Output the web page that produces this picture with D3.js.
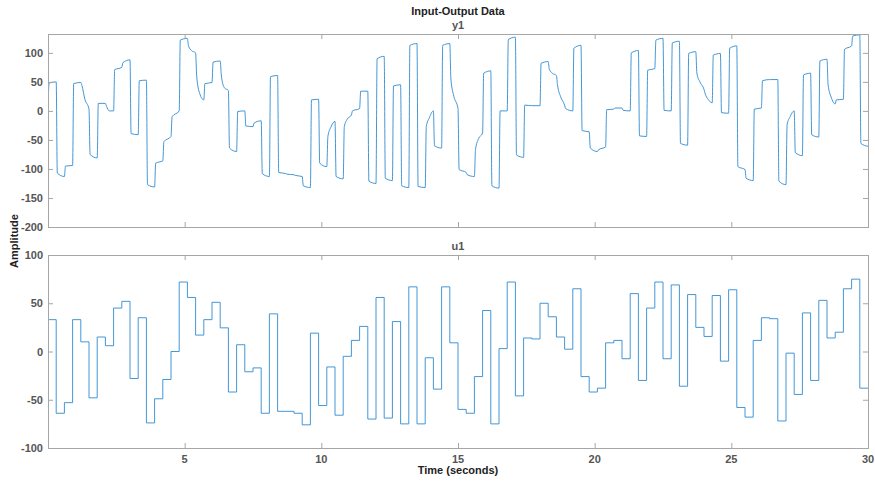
<!DOCTYPE html>
<html>
<head>
<meta charset="utf-8">
<script src="https://cdn.jsdelivr.net/npm/d3@7"></script>
<style>
  body { margin: 0; background: #fff; }
  svg text { font-family: "Liberation Sans", Arial, sans-serif; }
  .tick-label { font-size: 11px; font-weight: bold; fill: #555; }
  .title { font-size: 11px; font-weight: bold; fill: #222; }
  .sub { font-size: 11px; font-weight: bold; fill: #555; }
</style>
</head>
<body>
<div id="chart"></div>
<script>
// sample period of the input signal (seconds per held value)
var stepLength = 0.3;

// u1: held input values, one per step
var u1 = [
  33, -64, -53, 33, 10, -48, 15, 6, 45, 52,
  -28, 35, -74, -49, -29, 0, 72, 56, 17, 33,
  51, 24.5, -42, 7, -21, -17, -64, 39, -62, -62,
  -64, -76, 19, -56, -16, -66, -5, 11.5, 26, -70,
  56, -69, 31, -75, 67, -75, -6.5, -39, 67, 9,
  -60, -64, -26, 42.5, -75, 3, 72, -46, 14, 13,
  50, 36, 15, 2.4, 65, -26, -42, -38, 9, 11.5,
  -7.5, 60, -30, 45, 72, -7.5, 69, -36, 59, 25,
  15.6, 58, -10, 64, -58, -68, 11.5, 35, 34, -72,
  -1.7, -44.5, 40, -30, 53, 14, 20, 65, 75, -38
];

// y1: output read per step -> value just after the jump, mid-step (if curved), end of step
var y1Start = [
  48, -107, -95, 47, 44, -75, 13, 8, 71, 83,
  -39, 52, -127, -90, -53, -10, 122, 112, 60, 47,
  84, 62, -64, -1, -26, -21, -108, 59, -106, -109,
  -111, -129, 19, -90, -44, -113, -27, 0, 34, -121,
  90, -116, 43, -129, 113, -130, -27, -60, 113, 55,
  -101, -110, -67, 65, -129, 0, 123, -76, 10, 9,
  82, 72, 45, 4, 108, -34, -64, -67, 2, 5,
  1, 100, -43, 70, 122, 1, 117, -56, 99, 65,
  30, 96, -3, 108, -96, -116, 3, 52, 54, -121,
  -24, -72, 62, -41, 86, 45, 19, 106, 129, -56
];
var y1Mid = [
  null, null, null, null, 20, null, null, 0, null, null,
  null, null, null, null, null, null, null, 104, 30, null,
  null, 40, null, null, null, null, null, null, null, null,
  null, null, null, null, -28, null, -14, null, null, null,
  null, null, null, null, null, null, -12, null, null, 25,
  null, null, -48, null, null, null, null, null, null, null,
  null, 65, 25, null, null, null, null, null, null, null,
  null, null, null, null, null, null, null, null, null, 50,
  20, null, null, null, null, null, null, null, null, null,
  -10, null, null, null, null, 24, null, null, null, null
];
var y1End = [
  50, -113, -94, 49, 3, -81, 13, 0, 75, 88,
  -41, 53, -131, -86, -44, 0, 125, 100, 19, 49,
  86, 35, -70, 0, -27, -17, -113, 61, -108, -110,
  -113, -132, 20, -96, -18, -117, -7, 4, 34, -125,
  94, -120, 45, -132, 116, -132, 0, -64, 116, 4,
  -106, -113, -38, 69, -133, 0, 127, -80, 9, 9,
  85, 61, 10, 0, 113, -36, -70, -62, 3, 5,
  0, 104, -44, 73, 125, 0, 120, -59, 102, 37,
  14, 99, -4, 112, -101, -120, 5, 54, 54, -127,
  0, -77, 65, -45, 89, 12, 20, 112, 131, -61
];

var xTicks = [5, 10, 15, 20, 25, 30];
var yTicksTop = [-200, -150, -100, -50, 0, 50, 100];
var yTicksBottom = [-100, -50, 0, 50, 100];

var width = 875, height = 485;
var left = 48, right = 868;
var panels = [
  { name: "y1", top: 34, bottom: 227, domain: [-200, 132.5], ticks: yTicksTop, showX: false },
  { name: "u1", top: 255, bottom: 448, domain: [-100, 100], ticks: yTicksBottom, showX: true }
];

var lineColor = "#2f8bd0";
var boxColor = "#a6a6a6";

var svg = d3.select("#chart").append("svg")
  .attr("width", width)
  .attr("height", height);

var xScale = d3.scaleLinear().domain([0, 30]).range([left, right]);

// build point lists
var uPoints = u1.map((v, i) => [i * stepLength, v]);
uPoints.push([u1.length * stepLength, u1[u1.length - 1]]);

var yPoints = [[0, 0]];
y1Start.forEach(function(s, i) {
  var t0 = i * stepLength;
  yPoints.push([t0 + 0.04, s]);
  if (y1Mid[i] !== null) yPoints.push([t0 + 0.15, y1Mid[i]]);
  yPoints.push([t0 + stepLength, y1End[i]]);
});

panels.forEach(function(p, idx) {
  var yScale = d3.scaleLinear().domain(p.domain).range([p.bottom, p.top]);
  var g = svg.append("g");

  // clip
  var clipId = "clip" + idx;
  svg.append("clipPath").attr("id", clipId)
    .append("rect")
    .attr("x", left).attr("y", p.top)
    .attr("width", right - left).attr("height", p.bottom - p.top);

  // data line
  var line = d3.line()
    .x(d => xScale(d[0]))
    .y(d => yScale(d[1]));
  if (p.name === "u1") line.curve(d3.curveStepAfter);
  else line.curve(d3.curveMonotoneX);

  g.append("path")
    .attr("clip-path", "url(#" + clipId + ")")
    .attr("d", line(p.name === "u1" ? uPoints : yPoints))
    .attr("fill", "none")
    .attr("stroke", lineColor)
    .attr("stroke-width", 0.9);

  // ticks (inward, on all four sides)
  var yAxisL = d3.axisRight(yScale).tickValues(p.ticks).tickSize(5).tickFormat("");
  var yAxisR = d3.axisLeft(yScale).tickValues(p.ticks).tickSize(5).tickFormat("");
  var xAxisB = d3.axisTop(xScale).tickValues(xTicks).tickSize(5).tickFormat("");
  var xAxisT = d3.axisBottom(xScale).tickValues(xTicks).tickSize(5).tickFormat("");

  [[yAxisL, `translate(${left},0)`], [yAxisR, `translate(${right},0)`],
   [xAxisB, `translate(0,${p.bottom})`], [xAxisT, `translate(0,${p.top})`]]
    .forEach(function(a) {
      var ag = g.append("g").attr("transform", a[1]).call(a[0]);
      ag.select(".domain").remove();
      ag.selectAll("line").attr("stroke", boxColor);
    });

  // box
  g.append("rect")
    .attr("x", left + 0.5).attr("y", p.top + 0.5)
    .attr("width", right - left).attr("height", p.bottom - p.top)
    .attr("fill", "none")
    .attr("stroke", boxColor);

  // y tick labels
  g.selectAll(".ylab")
    .data(p.ticks)
    .enter()
    .append("text")
    .attr("class", "tick-label")
    .attr("x", left - 5)
    .attr("y", d => yScale(d) + 4)
    .attr("text-anchor", "end")
    .text(d => d);

  // x tick labels
  if (p.showX) {
    g.selectAll(".xlab")
      .data(xTicks)
      .enter()
      .append("text")
      .attr("class", "tick-label")
      .attr("x", d => xScale(d))
      .attr("y", p.bottom + 15)
      .attr("text-anchor", "middle")
      .text(d => d);
  }

  // panel title
  svg.append("text")
    .attr("class", "sub")
    .attr("x", (left + right) / 2)
    .attr("y", p.top - 5)
    .attr("text-anchor", "middle")
    .text(p.name);
});

svg.append("text")
  .attr("class", "title")
  .attr("x", (left + right) / 2)
  .attr("y", 15)
  .attr("text-anchor", "middle")
  .text("Input-Output Data");

svg.append("text")
  .attr("class", "title")
  .attr("x", (left + right) / 2)
  .attr("y", 474)
  .attr("text-anchor", "middle")
  .text("Time (seconds)");

svg.append("text")
  .attr("class", "title")
  .attr("transform", "translate(18,241) rotate(-90)")
  .attr("text-anchor", "middle")
  .text("Amplitude");
</script>
</body>
</html>
